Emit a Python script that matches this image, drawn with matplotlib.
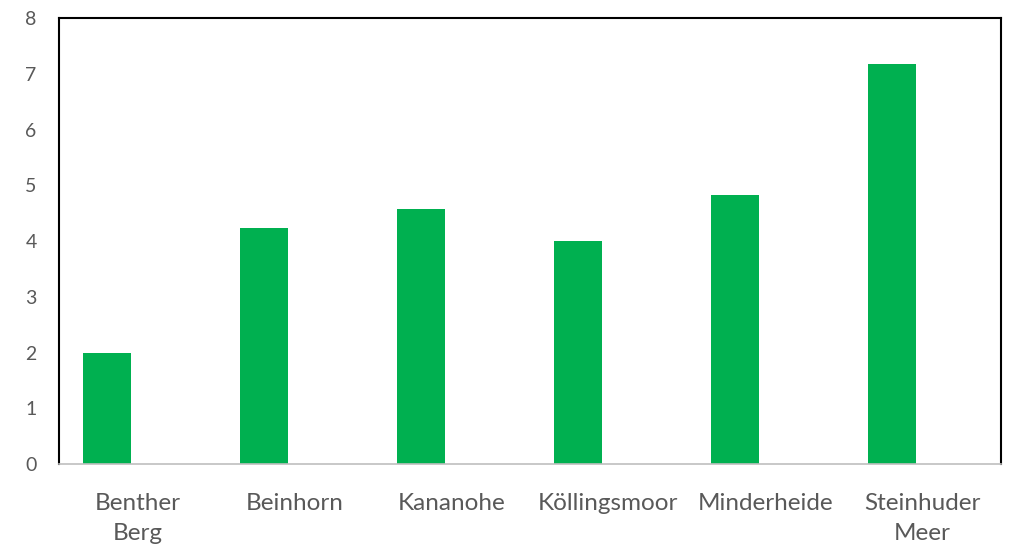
import matplotlib.pyplot as plt
import numpy as np

plt.rcParams['font.family'] = ['Lato', 'DejaVu Sans']

places = ["Benther\nBerg", "Beinhorn", "Kananohe", "Köllingsmoor", "Minderheide", "Steinhuder\nMeer"]
values = [2.0, 4.23, 4.57, 4.0, 4.82, 7.17]

fig = plt.figure(figsize=(10.13, 5.53), dpi=100)
ax = fig.add_axes([0.0582, 0.161, 0.9298, 0.806])

x = np.arange(len(places))
ax.bar(x - 0.194, values, width=0.306, color="#00b050")

ax.set_xlim(-0.5, len(places) - 0.5)
ax.set_ylim(0, 8)
ax.set_yticks(range(0, 9))
ax.set_xticks(x)
ax.set_xticklabels(places, linespacing=1.55)

ax.tick_params(axis="both", length=0, colors="#595959")
ax.tick_params(axis="y", pad=16, labelsize=14)
ax.tick_params(axis="x", pad=21, labelsize=17.5)

for side in ["left", "top", "right"]:
    ax.spines[side].set_color("black")
    ax.spines[side].set_linewidth(1.5)
ax.spines["bottom"].set_color("#bfbfbf")
ax.spines["bottom"].set_linewidth(1.2)

fig.savefig("out.png", dpi=100)
